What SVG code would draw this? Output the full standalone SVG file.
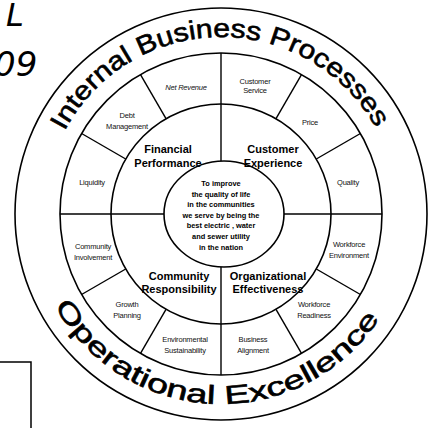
<svg xmlns="http://www.w3.org/2000/svg" width="432" height="428" viewBox="0 0 432 428">
<defs>
<style>
.ring{fill:none;stroke:#000;stroke-width:1.6}
.div{stroke:#000;stroke-width:1.4;fill:none}
.seg{font-family:"Liberation Sans",Arial,sans-serif;font-size:7.5px;fill:#111;text-anchor:middle;letter-spacing:-0.2px}
.quad{font-family:"Liberation Sans",Arial,sans-serif;font-size:11px;font-weight:bold;fill:#000;text-anchor:middle}
.core{font-family:"Liberation Sans",Arial,sans-serif;font-size:7.4px;font-weight:bold;fill:#000;text-anchor:middle}
.arc{font-family:"Liberation Sans",Arial,sans-serif;font-size:26px;fill:#000;stroke:#000;stroke-width:0.6}
.hand{font-family:"DejaVu Sans",sans-serif;font-style:italic;fill:#000}
</style>
<path id="topArc" d="M 44 214 A 177 177 0 0 1 398 214"/>
<path id="botArc" d="M 31 214 A 190 190 0 0 0 411 214"/>
</defs>
<rect width="432" height="428" fill="#fff"/>

<g id="annotations">
<text class="hand" x="6" y="26" font-size="32">L</text>
<text class="hand" x="-6" y="76" font-size="34">09</text>
<path d="M0 362 H31 V428" fill="none" stroke="#000" stroke-width="1.5"/>
</g>

<g id="connectors">
<circle class="ring" cx="221" cy="214" r="206"/>
<circle class="ring" cx="221" cy="214" r="161"/>
<circle class="ring" cx="221" cy="214" r="110"/>
<line class="div" x1="221" y1="161" x2="221" y2="53"/>
<line class="div" x1="221" y1="267" x2="221" y2="375"/>
<line class="div" x1="164" y1="214" x2="60" y2="214"/>
<line class="div" x1="284" y1="214" x2="382" y2="214"/>
<line class="div" x1="316.3" y1="159" x2="360.4" y2="133.5"/>
<line class="div" x1="276" y1="118.7" x2="301.5" y2="74.6"/>
<line class="div" x1="166" y1="118.7" x2="140.5" y2="74.6"/>
<line class="div" x1="125.7" y1="159" x2="81.6" y2="133.5"/>
<line class="div" x1="125.7" y1="269" x2="81.6" y2="294.5"/>
<line class="div" x1="166" y1="309.3" x2="140.5" y2="353.4"/>
<line class="div" x1="276" y1="309.3" x2="301.5" y2="353.4"/>
<line class="div" x1="316.3" y1="269" x2="360.4" y2="294.5"/>
</g>

<g id="internal-business-processes">
<text class="arc"><textPath href="#topArc" startOffset="86" textLength="380" lengthAdjust="spacingAndGlyphs">Internal Business Processes</textPath></text>
</g>
<g id="operational-excellence">
<text class="arc"><textPath href="#botArc" startOffset="96" textLength="390" lengthAdjust="spacingAndGlyphs">Operational Excellence</textPath></text>
</g>

<g id="core">
<ellipse cx="224" cy="214" rx="60" ry="53" fill="#fff" stroke="#000" stroke-width="1.6"/>
<text class="core" x="221" y="186">To improve</text>
<text class="core" x="221" y="196.6">the quality of life</text>
<text class="core" x="221" y="207.2">in the communities</text>
<text class="core" x="221" y="217.8">we serve by being the</text>
<text class="core" x="221" y="228.4">best electric , water</text>
<text class="core" x="221" y="239">and sewer utility</text>
<text class="core" x="221" y="249.6">in the nation</text>
</g>

<g id="financial-performance"><text class="quad" x="168" y="153">Financial</text><text class="quad" x="168" y="167">Performance</text></g>
<g id="customer-experience"><text class="quad" x="273" y="153">Customer</text><text class="quad" x="273" y="167">Experience</text></g>
<g id="community-responsibility"><text class="quad" x="179" y="280">Community</text><text class="quad" x="179" y="293">Responsibility</text></g>
<g id="organizational-effectiveness"><text class="quad" x="268" y="280">Organizational</text><text class="quad" x="268" y="293">Effectiveness</text></g>

<g id="net-revenue"><text class="seg" x="186" y="90" font-style="italic">Net Revenue</text></g>
<g id="customer-service"><text class="seg" x="255" y="84">Customer</text><text class="seg" x="255" y="93">Service</text></g>
<g id="price"><text class="seg" x="310" y="125">Price</text></g>
<g id="quality"><text class="seg" x="348" y="185">Quality</text></g>
<g id="workforce-environment"><text class="seg" x="349" y="247">Workforce</text><text class="seg" x="349" y="258">Environment</text></g>
<g id="workforce-readiness"><text class="seg" x="314" y="307">Workforce</text><text class="seg" x="314" y="318">Readiness</text></g>
<g id="business-alignment"><text class="seg" x="253" y="342">Business</text><text class="seg" x="253" y="353">Alignment</text></g>
<g id="environmental-sustainability"><text class="seg" x="185" y="342">Environmental</text><text class="seg" x="185" y="353">Sustainability</text></g>
<g id="growth-planning"><text class="seg" x="127" y="307">Growth</text><text class="seg" x="127" y="318">Planning</text></g>
<g id="community-involvement"><text class="seg" x="93" y="249">Community</text><text class="seg" x="93" y="260">Involvement</text></g>
<g id="liquidity"><text class="seg" x="92" y="185">Liquidity</text></g>
<g id="debt-management"><text class="seg" x="127" y="118">Debt</text><text class="seg" x="127" y="129">Management</text></g>
</svg>
